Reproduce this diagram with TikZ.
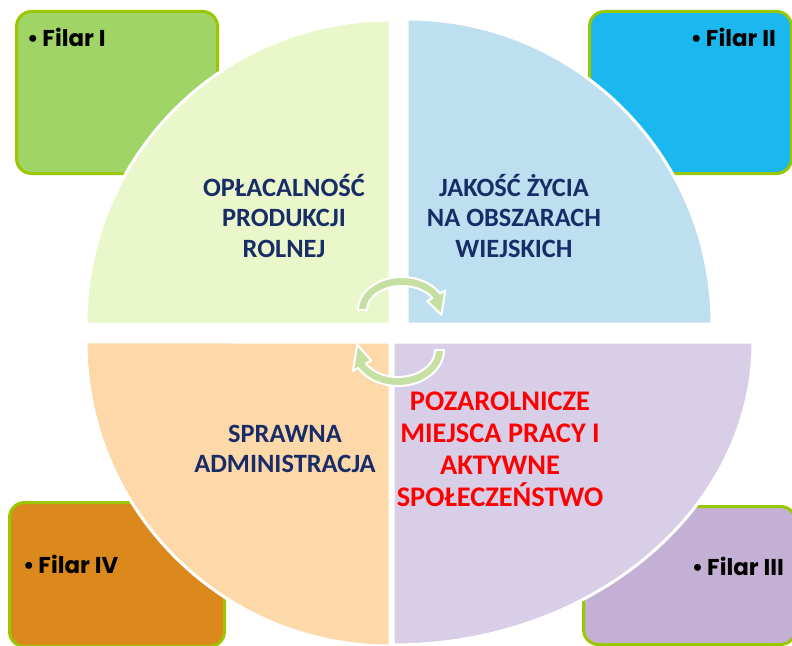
\documentclass[tikz,border=0pt]{standalone}
\usepackage{fontspec}
\setmainfont{Carlito}
\newfontfamily\filarfont{Poppins}
\usetikzlibrary{calc}
\definecolor{q1c}{RGB}{234,247,203}
\definecolor{q2c}{RGB}{189,223,239}
\definecolor{q3c}{RGB}{253,216,168}
\definecolor{q4c}{RGB}{217,206,231}
\definecolor{b1c}{RGB}{160,212,102}
\definecolor{b2c}{RGB}{26,184,238}
\definecolor{b3c}{RGB}{196,176,212}
\definecolor{b4c}{RGB}{219,137,29}
\definecolor{limeb}{RGB}{153,200,0}
\definecolor{navy}{RGB}{24,44,104}
\definecolor{arrowg}{RGB}{198,224,164}
\begin{document}
\begin{tikzpicture}[x=1bp,y=1bp,yscale=-1,
  pillar/.style={fill=#1, draw=limeb, line width=3bp, rounded corners=15bp, inner sep=0pt},
  quarter/.style={fill=#1, draw=white, line width=3bp},
  qtext/.style={font=\bfseries\fontsize{26.5}{30.5}\selectfont, text=navy, align=center, inner sep=0pt},
  rtext/.style={font=\bfseries\fontsize{28.5}{32.2}\selectfont, text=red, align=center, inner sep=0pt},
  filar/.style={font=\filarfont\bfseries\fontsize{23}{26}\selectfont, text=black, inner sep=0pt},
  arrowsty/.style={fill=arrowg, draw=white, line width=2bp, line join=round}]
\useasboundingbox (0,0) rectangle (792,646);
% pillar boxes
\node[pillar=b1c, minimum width=201bp, minimum height=162bp, anchor=north west] (p1) at (15,10) {};
\node[pillar=b2c, minimum width=202bp, minimum height=162bp, anchor=north west] (p2) at (588,10) {};
\node[pillar=b4c, minimum width=215bp, minimum height=144bp, anchor=north west] (p4) at (8,501) {};
\node[pillar=b3c, minimum width=212bp, minimum height=138bp, anchor=north west] (p3) at (582,505) {};
\node[filar, anchor=west] (f1) at (27,37) {•\,Filar I};
\node[filar, anchor=east] (f2) at (776,37) {•\,Filar II};
\node[filar, anchor=west] (f4) at (23,564) {•\,Filar IV};
\node[filar, anchor=east] (f3) at (784,566) {•\,Filar III};
% quarters
\path[quarter=q1c] (390,324) -- (86,324) arc[start angle=180,end angle=270,radius=304bp] -- cycle;
\path[quarter=q2c] (407,324) -- (407,19) arc[start angle=270,end angle=360,radius=305bp] -- cycle;
\path[quarter=q3c] (390,342) -- (390,646) arc[start angle=90,end angle=180,radius=304bp] -- cycle;
\path[quarter=q4c] (393,342) -- (753,342) arc[start angle=0,end angle=90,x radius=360bp,y radius=303bp] -- cycle;
% texts
\node[qtext] (t1) at (284,216) {OPŁACALNOŚĆ\\PRODUKCJI\\ROLNEJ};
\node[qtext] (t2) at (514,216) {JAKOŚĆ ŻYCIA\\NA OBSZARACH\\WIEJSKICH};
\node[qtext] (t3) at (285,449) {SPRAWNA\\ADMINISTRACJA};
\node[rtext] (t4) at (500,449) {POZAROLNICZE\\MIEJSCA PRACY I\\AKTYWNE\\SPOŁECZEŃSTWO};
% circular arrows
\coordinate (c1) at (402,310);
\coordinate (c2) at (398,350);
\path[arrowsty] ($(c1)+(180:44 and 33)$) arc[start angle=180,end angle=330,x radius=44bp,y radius=33bp]
  -- ($(c1)+(330:50 and 39)$) -- ($(c1)+(370:40 and 28.5)$) -- ($(c1)+(330:29 and 18)$)
  -- ($(c1)+(330:35 and 24)$) arc[start angle=330,end angle=180,x radius=35bp,y radius=24bp] -- cycle;
\path[arrowsty] ($(c2)+(0:46 and 36)$) arc[start angle=0,end angle=150,x radius=46bp,y radius=36bp]
  -- ($(c2)+(150:52 and 42)$) -- ($(c2)+(190:41.5 and 31.5)$) -- ($(c2)+(150:31 and 21)$)
  -- ($(c2)+(150:37 and 27)$) arc[start angle=150,end angle=0,x radius=37bp,y radius=27bp] -- cycle;
\end{tikzpicture}
\end{document}
